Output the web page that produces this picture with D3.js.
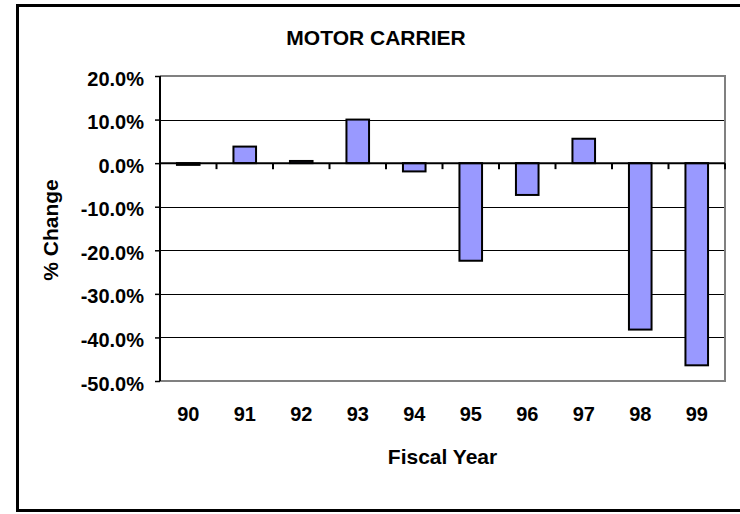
<!DOCTYPE html>
<html>
<head>
<meta charset="utf-8">
<script src="https://cdn.jsdelivr.net/npm/d3@7"></script>
<style>
  body { margin: 0; background: #fff; }
  svg text { font-family: "Liberation Sans", Arial, sans-serif; font-weight: bold; fill: #000; }
</style>
</head>
<body>
<svg width="740" height="514"></svg>
<script>
// fiscal years and % change
var years = ["90", "91", "92", "93", "94", "95", "96", "97", "98", "99"];
var changes = [-0.4, 3.8, 0.5, 10.0, -1.9, -22.4, -7.3, 5.6, -38.2, -46.4];
var yTicks = [20, 10, 0, -10, -20, -30, -40, -50];

var svg = d3.select("svg");
var plotLeft = 160, plotRight = 725, plotTop = 76, plotBottom = 381;

// outer frame (right edge falls off the picture)
svg.append("rect")
  .attr("x", 17.5).attr("y", 5.5)
  .attr("width", 730).attr("height", 505)
  .attr("fill", "none").attr("stroke", "#000").attr("stroke-width", 3);

var x = d3.scaleBand()
  .domain(years)
  .range([plotLeft, plotRight])
  .paddingInner(0.6)
  .paddingOuter(0.3);

var y = d3.scaleLinear()
  .domain([-50, 20])
  .range([plotBottom, plotTop]);

// gridlines
svg.append("g")
  .selectAll("line")
  .data(yTicks.filter(d => d != 20 && d != -50 && d != 0))
  .enter()
  .append("line")
    .attr("x1", plotLeft).attr("x2", plotRight)
    .attr("y1", d => Math.round(y(d)) + 0.5)
    .attr("y2", d => Math.round(y(d)) + 0.5)
    .attr("stroke", "#000").attr("stroke-width", 1);

// gray plot border (top, right, bottom)
svg.append("path")
  .attr("d", `M${plotLeft},${plotTop}H${plotRight}V${plotBottom}H${plotLeft}`)
  .attr("fill", "none").attr("stroke", "#808080").attr("stroke-width", 2);

// bars
svg.append("g")
  .selectAll("rect")
  .data(changes)
  .enter()
  .append("rect")
    .attr("x", (d, i) => x(years[i]))
    .attr("width", x.bandwidth())
    .attr("y", d => y(Math.max(0, d)))
    .attr("height", d => Math.abs(y(d) - y(0)))
    .attr("fill", "#9999FF")
    .attr("stroke", "#000")
    .attr("stroke-width", 2);

// zero line with category ticks
var zero = svg.append("g");
zero.append("line")
  .attr("x1", plotLeft).attr("x2", plotRight)
  .attr("y1", y(0)).attr("y2", y(0))
  .attr("stroke", "#000").attr("stroke-width", 2);
zero.selectAll("line.tick")
  .data(years)
  .enter()
  .append("line")
    .attr("class", "tick")
    .attr("x1", d => x(d) + x.bandwidth() / 2 + x.step() / 2)
    .attr("x2", d => x(d) + x.bandwidth() / 2 + x.step() / 2)
    .attr("y1", y(0)).attr("y2", y(0) + 6)
    .attr("stroke", "#000").attr("stroke-width", 2);

// y axis
var yAxis = svg.append("g")
  .attr("transform", `translate(${plotLeft},0)`)
  .call(d3.axisLeft(y)
    .tickValues(yTicks)
    .tickFormat(d => d.toFixed(1) + "%")
    .tickSize(5)
    .tickPadding(11));
yAxis.select(".domain").attr("stroke", "#000").attr("stroke-width", 2).attr("d", `M0,${plotTop}V${plotBottom}`);
yAxis.selectAll(".tick line").attr("stroke", "#000").attr("stroke-width", 1.5);
yAxis.selectAll("text").style("font-size", "20px").attr("dy", "0.45em");

// x labels
var xAxis = svg.append("g")
  .attr("transform", `translate(0,${plotBottom})`)
  .call(d3.axisBottom(x).tickSize(0).tickPadding(26));
xAxis.select(".domain").remove();
xAxis.selectAll("text").style("font-size", "20px");

// titles
svg.append("text")
  .attr("x", 376).attr("y", 45)
  .attr("text-anchor", "middle")
  .style("font-size", "21px")
  .text("MOTOR CARRIER");

svg.append("text")
  .attr("x", (plotLeft + plotRight) / 2).attr("y", 464)
  .attr("text-anchor", "middle")
  .style("font-size", "21px")
  .text("Fiscal Year");

svg.append("text")
  .attr("transform", "translate(58,230) rotate(-90)")
  .attr("text-anchor", "middle")
  .style("font-size", "21px")
  .text("% Change");
</script>
</body>
</html>
